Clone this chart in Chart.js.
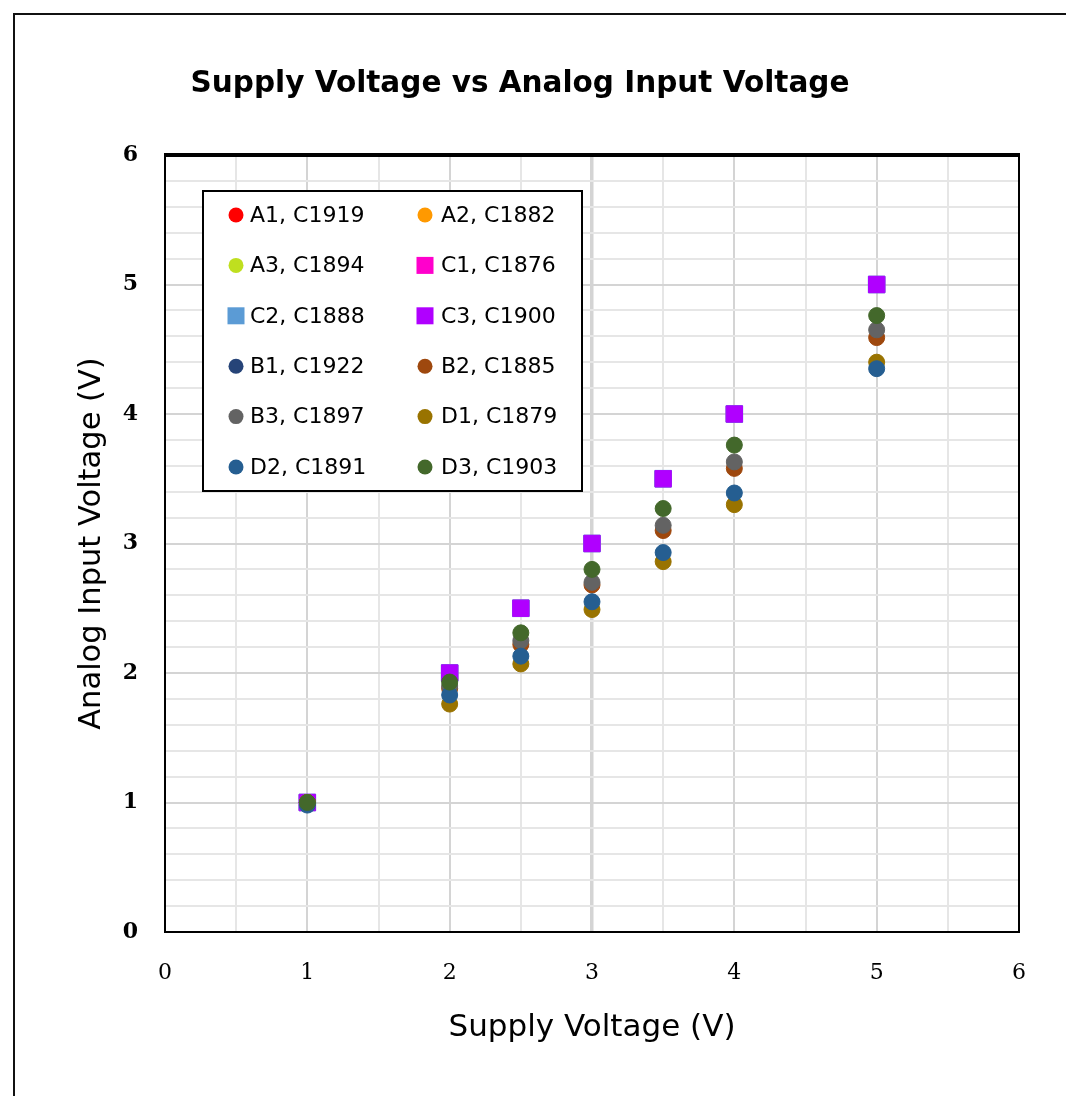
<!DOCTYPE html>
<html>
<head>
<meta charset="utf-8">
<script src="https://cdn.jsdelivr.net/npm/chart.js@4.4.0/dist/chart.umd.min.js"></script>
<style>
  body { margin: 0; background: #fff; }
  #wrap { position: relative; width: 1066px; height: 1096px; overflow: hidden; }
  #frame { position: absolute; left: 13px; top: 13px; width: 1060px; height: 1100px;
           border-left: 2px solid #111; border-top: 2px solid #111; }
  #myChart { position: absolute; left: 0; top: 0; }
</style>
</head>
<body>
<div id="wrap">
  <div id="frame"></div>
  <canvas id="myChart" width="1066" height="1096"></canvas>
</div>
<script>
// Data
const supplyVoltage = [1, 2, 2.5, 3, 3.5, 4, 5];

const A1 = [1.00, 1.88, 2.22, 2.68, 3.10, 3.58, 4.59];
const A2 = [1.00, 1.76, 2.07, 2.49, 2.86, 3.30, 4.40];
const A3 = [1.00, 1.93, 2.31, 2.80, 3.27, 3.76, 4.76];
const C1 = [1.00, 2.00, 2.50, 3.00, 3.50, 4.00, 5.00];
const C2 = [1.00, 2.00, 2.50, 3.00, 3.50, 4.00, 5.00];
const C3 = [1.00, 2.00, 2.50, 3.00, 3.50, 4.00, 5.00];
const B1 = [0.98, 1.83, 2.13, 2.55, 2.93, 3.39, 4.35];
const B2 = [1.00, 1.88, 2.22, 2.68, 3.10, 3.58, 4.59];
const B3 = [1.00, 1.90, 2.25, 2.70, 3.14, 3.63, 4.65];
const D1 = [1.00, 1.76, 2.07, 2.49, 2.86, 3.30, 4.40];
const D2 = [0.98, 1.83, 2.13, 2.55, 2.93, 3.39, 4.35];
const D3 = [1.00, 1.93, 2.31, 2.80, 3.27, 3.76, 4.76];

const seriesLabels = ['A1, C1919', 'A2, C1882', 'A3, C1894', 'C1, C1876', 'C2, C1888', 'C3, C1900',
                      'B1, C1922', 'B2, C1885', 'B3, C1897', 'D1, C1879', 'D2, C1891', 'D3, C1903'];
const seriesValues = [A1, A2, A3, C1, C2, C3, B1, B2, B3, D1, D2, D3];
const xTickLabels = ['0', '1', '2', '3', '4', '5', '6'];
const yTickLabels = ['0', '1', '2', '3', '4', '5', '6'];

// Styles
const seriesColors = ['#ff0000', '#ff9900', '#bfdf1f', '#ff00cc', '#5b9bd5', '#b000ff',
                      '#264478', '#9e480e', '#636363', '#997300', '#255e91', '#43682b'];
const seriesShapes = ['circle', 'circle', 'circle', 'rect', 'rect', 'rect',
                      'circle', 'circle', 'circle', 'circle', 'circle', 'circle'];
// the A and B1 markers sit underneath later series in the original
const seriesRadius = [7, 7, 7, 11.5, 11.8, 11.5, 7, 8, 8, 8, 8, 8];

const isWhole = (v) => Math.abs(v - Math.round(v)) < 1e-6;

const datasets = seriesValues.map((vals, i) => ({
  label: seriesLabels[i],
  data: vals.map((y, j) => ({ x: supplyVoltage[j], y: y })),
  backgroundColor: seriesColors[i],
  borderColor: seriesColors[i],
  borderWidth: 1,
  pointStyle: seriesShapes[i],
  pointRadius: seriesRadius[i],
  order: seriesValues.length - i
}));

// Frame around the plot + legend box inside the plot
const framePlugin = {
  id: 'frameAndLegend',
  afterDraw(chart) {
    const c = chart.ctx;
    const a = chart.chartArea;
    c.save();
    c.strokeStyle = '#000';
    c.lineWidth = 2;
    c.strokeRect(a.left, a.top, a.right - a.left, a.bottom - a.top);
    c.lineWidth = 4;
    c.beginPath();
    c.moveTo(a.left - 1, a.top);
    c.lineTo(a.right + 1, a.top);
    c.stroke();

    // legend
    const box = { left: 203, top: 191, right: 582, bottom: 491 };
    c.fillStyle = '#fff';
    c.fillRect(box.left, box.top, box.right - box.left, box.bottom - box.top);
    c.lineWidth = 2;
    c.strokeRect(box.left, box.top, box.right - box.left, box.bottom - box.top);
    const colX = [236, 425];
    const textX = [250, 441];
    const rowY0 = 215, rowStep = 50.4;
    c.font = '22px "DejaVu Sans"';
    c.textBaseline = 'middle';
    c.textAlign = 'left';
    chart.data.datasets.forEach((ds, i) => {
      const col = i % 2;
      const row = Math.floor(i / 2);
      const y = rowY0 + row * rowStep;
      c.fillStyle = ds.backgroundColor;
      if (ds.pointStyle === 'rect') {
        c.fillRect(colX[col] - 8.5, y - 8.5, 17, 17);
      } else {
        c.beginPath();
        c.arc(colX[col], y, 7.5, 0, Math.PI * 2);
        c.fill();
      }
      c.fillStyle = '#000';
      c.fillText(ds.label, textX[col], y + 1);
    });
    c.restore();
  }
};

const ctx = document.getElementById('myChart');
const chart = new Chart(ctx, {
  type: 'scatter',
  data: { datasets: datasets },
  options: {
    responsive: false,
    animation: false,
    events: [],
    layout: { padding: { left: 21, right: 47, top: 0, bottom: 0 } },
    plugins: {
      legend: { display: false },
      tooltip: { enabled: false },
      title: {
        display: true,
        text: 'Supply Voltage vs Analog Input Voltage',
        color: '#000',
        font: { family: '"DejaVu Sans"', size: 29.5, weight: 'bold', lineHeight: 1.2 },
        padding: { top: 67, bottom: 52.6 }
      }
    },
    scales: {
      x: {
        type: 'linear',
        min: 0,
        max: 6,
        afterFit: (scale) => { scale.height = 164; },
        border: { display: false },
        grid: {
          drawTicks: false,
          color: (c) => isWhole(c.tick.value) ? '#d4d4d4' : '#e6e6e6',
          lineWidth: (c) => c.tick.value === 3 ? 3.5 : 2
        },
        ticks: {
          stepSize: 0.5,
          autoSkip: false,
          maxRotation: 0,
          padding: 28,
          color: '#000',
          font: { family: '"DejaVu Serif"', size: 22 },
          callback: (v) => isWhole(v) ? xTickLabels[Math.round(v)] : ''
        },
        title: {
          display: true,
          text: 'Supply Voltage (V)',
          color: '#000',
          font: { family: '"DejaVu Sans"', size: 31, lineHeight: 1.2 },
          padding: { top: 0, bottom: 49.4 }
        }
      },
      y: {
        type: 'linear',
        min: 0,
        max: 6,
        afterFit: (scale) => { scale.width = 144; },
        border: { display: false },
        grid: {
          drawTicks: false,
          color: (c) => isWhole(c.tick.value) ? '#d4d4d4' : '#e6e6e6',
          lineWidth: 2
        },
        ticks: {
          stepSize: 0.2,
          autoSkip: false,
          padding: 27,
          color: '#000',
          font: { family: '"DejaVu Serif"', size: 22, weight: 'bold' },
          callback: (v) => isWhole(v) ? yTickLabels[Math.round(v)] : ''
        },
        title: {
          display: true,
          text: 'Analog Input Voltage (V)',
          color: '#000',
          font: { family: '"DejaVu Sans"', size: 30.5, lineHeight: 1.2 },
          padding: { top: 52.7, bottom: 0 }
        }
      }
    }
  },
  plugins: [framePlugin]
});
</script>
</body>
</html>
